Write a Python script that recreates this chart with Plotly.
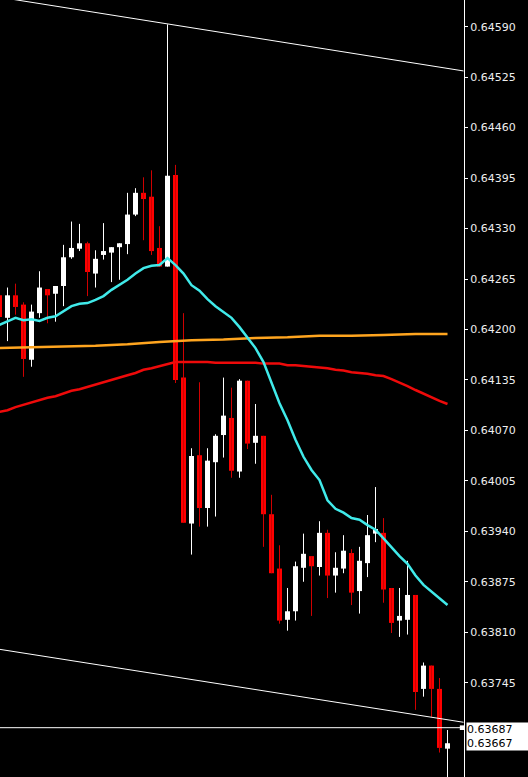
import plotly.graph_objects as go

# ---- candle data (OHLC) ----
opens = [0.64244, 0.64215, 0.64244, 0.64232, 0.64161, 0.64221, 0.64252, 0.64246, 0.64256, 0.64293,
         0.64304, 0.64311, 0.64272, 0.64296, 0.64299, 0.64306, 0.64310, 0.64348, 0.64376, 0.64371,
         0.64305, 0.64281, 0.64399, 0.64138, 0.63950, 0.64038, 0.63970, 0.64029, 0.64064, 0.64086,
         0.64017, 0.64134, 0.64054, 0.64063, 0.63962, 0.63892, 0.63826, 0.63837, 0.63893, 0.63908,
         0.63894, 0.63938, 0.63883, 0.63892, 0.63912, 0.63863, 0.63899, 0.63937, 0.63938, 0.63867,
         0.63825, 0.63826, 0.63858, 0.63737, 0.63767, 0.63737, 0.63660]
highs = [0.64251, 0.64254, 0.64259, 0.64235, 0.64232, 0.64275, 0.64252, 0.64256, 0.64309, 0.64339,
         0.64336, 0.64313, 0.64302, 0.64337, 0.64306, 0.64311, 0.64376, 0.64382, 0.64396, 0.64405,
         0.64333, 0.64593, 0.64412, 0.64221, 0.64047, 0.64132, 0.64047, 0.64065, 0.64138, 0.64125,
         0.64136, 0.64134, 0.64104, 0.64063, 0.63987, 0.63922, 0.63867, 0.63901, 0.63937, 0.63908,
         0.63953, 0.63942, 0.63913, 0.63935, 0.63917, 0.63920, 0.63961, 0.63997, 0.63957, 0.63867,
         0.63867, 0.63902, 0.63858, 0.63771, 0.63767, 0.63751, 0.63684]
lows = [0.64206, 0.64185, 0.64219, 0.64139, 0.64152, 0.64215, 0.64208, 0.64210, 0.64230, 0.64291,
        0.64301, 0.64243, 0.64254, 0.64290, 0.64261, 0.64264, 0.64297, 0.64346, 0.64315, 0.64296,
        0.64281, 0.64281, 0.64131, 0.63951, 0.63910, 0.63946, 0.63946, 0.63959, 0.64035, 0.64009,
        0.64009, 0.64046, 0.64027, 0.63920, 0.63886, 0.63821, 0.63812, 0.63825, 0.63875, 0.63831,
        0.63883, 0.63854, 0.63861, 0.63886, 0.63845, 0.63834, 0.63881, 0.63926, 0.63848, 0.63809,
        0.63804, 0.63807, 0.63710, 0.63727, 0.63701, 0.63655, 0.63607]
closes = [0.64216, 0.64244, 0.64229, 0.64162, 0.64223, 0.64254, 0.64244, 0.64256, 0.64293, 0.64305,
          0.64311, 0.64274, 0.64291, 0.64301, 0.64306, 0.64311, 0.64348, 0.64376, 0.64368, 0.64301,
          0.64281, 0.64398, 0.64135, 0.63951, 0.64037, 0.63970, 0.64031, 0.64063, 0.64089, 0.64018,
          0.64134, 0.64053, 0.64063, 0.63962, 0.63886, 0.63825, 0.63837, 0.63895, 0.63911, 0.63895,
          0.63938, 0.63883, 0.63893, 0.63915, 0.63861, 0.63902, 0.63935, 0.63943, 0.63865, 0.63822,
          0.63831, 0.63858, 0.63733, 0.63767, 0.63737, 0.63661, 0.63667]

# ---- moving averages ----
ma_fast = [0.64206, 0.64211, 0.64215, 0.64212, 0.64213, 0.64211, 0.64215, 0.64217, 0.64224, 0.64230,
           0.64233, 0.64234, 0.64238, 0.64243, 0.64251, 0.64257, 0.64264, 0.64272, 0.64279, 0.64282,
           0.64283, 0.64292, 0.64283, 0.64272, 0.64257, 0.64250, 0.64239, 0.64230, 0.64223, 0.64215,
           0.64203, 0.64190, 0.64176, 0.64158, 0.64132, 0.64105, 0.64083, 0.64058, 0.64036, 0.64019,
           0.64006, 0.63980, 0.63969, 0.63964, 0.63957, 0.63955, 0.63948, 0.63942, 0.63931, 0.63919,
           0.63908, 0.63898, 0.63883, 0.63871, 0.63862, 0.63854, 0.63845]
ma_slow = [0.64094, 0.64096, 0.64100, 0.64103, 0.64107, 0.64109, 0.64112, 0.64114, 0.64118, 0.64121,
           0.64123, 0.64126, 0.64130, 0.64132, 0.64135, 0.64139, 0.64141, 0.64144, 0.64148, 0.64150,
           0.64153, 0.64156, 0.64158, 0.64158, 0.64158, 0.64158, 0.64158, 0.64157, 0.64157, 0.64157,
           0.64157, 0.64157, 0.64157, 0.64156, 0.64156, 0.64156, 0.64154, 0.64154, 0.64153, 0.64152,
           0.64151, 0.64150, 0.64148, 0.64147, 0.64145, 0.64144, 0.64143, 0.64141, 0.64140, 0.64136,
           0.64132, 0.64127, 0.64122, 0.64117, 0.64112, 0.64108, 0.64104]
ma_mid_idx = [0, 4, 8, 12, 16, 20, 24, 28, 32, 36, 40, 44, 48, 52, 56]
ma_mid = [0.64176, 0.64177, 0.64178, 0.64179, 0.64181, 0.64184, 0.64186, 0.64187,
          0.64189, 0.64190, 0.64192, 0.64192, 0.64193, 0.64194, 0.64194]

# ---- trend lines & price levels ----
trend_x = [0, 58]
trend_upper = [0.64628, 0.64533]
trend_lower = [0.63788, 0.63694]
price_level = 0.63687
price_labels = ["0.63687", "0.63667"]

tick_vals = [0.64590, 0.64525, 0.64460, 0.64395, 0.64330, 0.64265, 0.64200, 0.64135,
             0.64070, 0.64005, 0.63940, 0.63875, 0.63810, 0.63745]
tick_text = ["0.64590", "0.64525", "0.64460", "0.64395", "0.64330", "0.64265", "0.64200",
             "0.64135", "0.64070", "0.64005", "0.63940", "0.63875", "0.63810", "0.63745"]

x = list(range(len(opens)))
MIN_BODY = 0.000013

fig = go.Figure()

# wicks
for bull in (True, False):
    wx, wy = [], []
    for i in x:
        if (closes[i] >= opens[i]) == bull:
            wx += [i, i, None]
            wy += [lows[i], highs[i], None]
    fig.add_trace(go.Scatter(x=wx, y=wy, mode="lines",
                             line=dict(color="#FFFFFF" if bull else "#D00000", width=1),
                             hoverinfo="skip"))

# bodies
for bull in (True, False):
    bx, bbase, bh = [], [], []
    for i in x:
        if (closes[i] >= opens[i]) == bull:
            lo = min(opens[i], closes[i])
            h = max(abs(closes[i] - opens[i]), MIN_BODY)
            bx.append(i)
            bbase.append(lo)
            bh.append(h)
    fig.add_trace(go.Bar(x=bx, y=bh, base=bbase, width=0.625,
                         marker=dict(color="#FFFFFF" if bull else "#FF0000", line=dict(width=0)),
                         hoverinfo="skip"))

# moving averages
fig.add_trace(go.Scatter(x=ma_mid_idx, y=ma_mid, mode="lines",
                         line=dict(color="#FFA51F", width=2.5), hoverinfo="skip"))
fig.add_trace(go.Scatter(x=x, y=ma_slow, mode="lines",
                         line=dict(color="#EE0A0A", width=2.5), hoverinfo="skip"))
fig.add_trace(go.Scatter(x=x, y=ma_fast, mode="lines",
                         line=dict(color="#40EAEA", width=2.5), hoverinfo="skip"))

# trend lines
fig.add_trace(go.Scatter(x=trend_x, y=trend_upper, mode="lines",
                         line=dict(color="#FFFFFF", width=1), hoverinfo="skip"))
fig.add_trace(go.Scatter(x=trend_x, y=trend_lower, mode="lines",
                         line=dict(color="#FFFFFF", width=1), hoverinfo="skip"))

# current price line
fig.add_shape(type="line", xref="paper", x0=0, x1=1, yref="y", y0=price_level, y1=price_level,
              line=dict(color="#FFFFFF", width=1))
fig.add_shape(type="rect", xref="paper", x0=0.991, x1=1.0, yref="y",
              y0=price_level - 0.00003, y1=price_level + 0.00003,
              fillcolor="#FFFFFF", line=dict(width=0))

fig.add_annotation(xref="paper", x=1, xanchor="left", xshift=2, yref="y", y=price_level,
                   yanchor="top", yshift=6,
                   text="<br>".join(price_labels), showarrow=False, bgcolor="#FFFFFF",
                   borderpad=0, width=62, align="left",
                   font=dict(family="DejaVu Sans", size=11, color="#000000"))

fig.update_layout(
    width=528, height=777,
    margin=dict(l=0, r=64, t=0, b=0),
    paper_bgcolor="#000000", plot_bgcolor="#000000",
    showlegend=False, barmode="overlay", hovermode=False,
    xaxis=dict(range=[0.0625, 58.0625], visible=False, showgrid=False, zeroline=False),
    yaxis=dict(side="right", range=[0.636235, 0.646244], tickvals=tick_vals, ticktext=tick_text,
               showgrid=False, zeroline=False, showline=True, linecolor="#FFFFFF", linewidth=1,
               ticks="outside", ticklen=3, tickcolor="#FFFFFF",
               tickfont=dict(family="DejaVu Sans", size=11, color="#EEEEEE")),
)

fig.write_html("out.html", config={"displayModeBar": False},
               post_script="document.body.style.margin='0';document.body.style.background='#000';")
